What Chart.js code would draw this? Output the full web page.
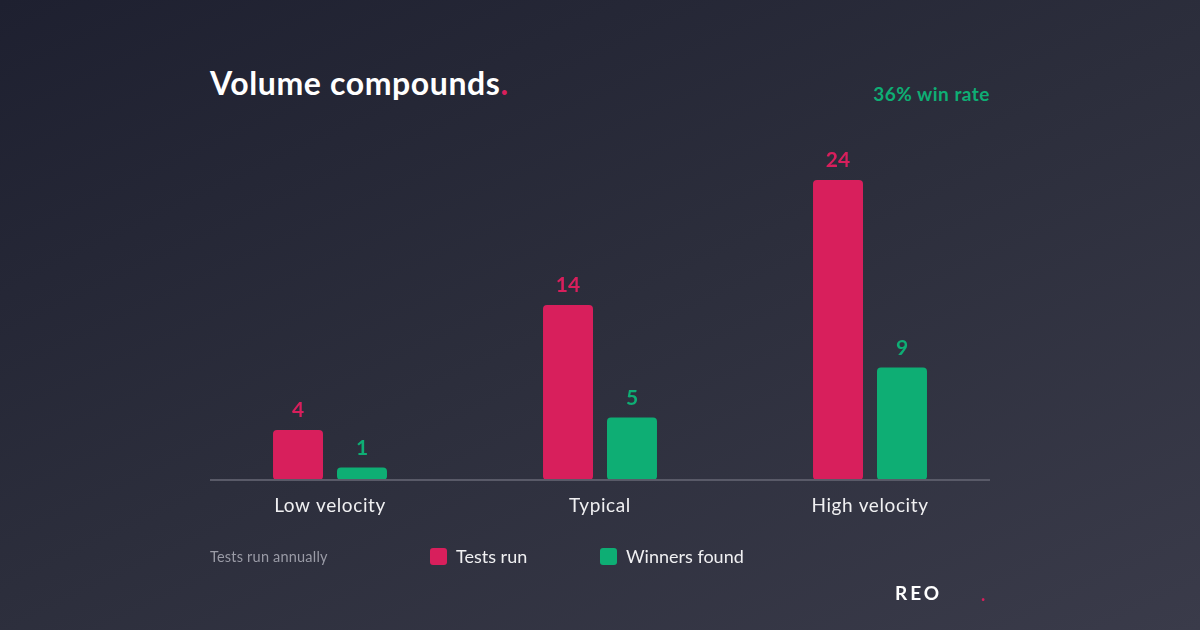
<!DOCTYPE html>
<html>
<head>
<meta charset="utf-8">
<script src="https://cdn.jsdelivr.net/npm/chart.js@4"></script>
<style>
  html, body { margin: 0; padding: 0; }
  body {
    width: 1200px; height: 630px; overflow: hidden; position: relative;
    background: linear-gradient(155deg, #1e2030 0%, #2c2e3c 50%, #3a3b4a 100%);
    font-family: Lato, "Noto Sans", sans-serif;
  }
  #chart { position: absolute; left: 0; top: 0; }
  .title { position: absolute; left: 210px; top: 63px; color: #fff; font-size: 32px; font-weight: 700; letter-spacing: 0.6px; }
  .title span { color: #d81f5c; }
  .winrate { position: absolute; right: 210px; top: 82px; color: #0eae74; font-size: 19px; font-weight: 700; letter-spacing: 0.5px; }
  .note { position: absolute; left: 210px; top: 548px; color: #9a9ba6; font-size: 14.5px; letter-spacing: 0.2px; }
  .leg { position: absolute; top: 545px; color: #f0f0f2; font-size: 18px; }
  .leg i { display: inline-block; width: 17px; height: 17px; border-radius: 3px; vertical-align: -2px; margin-right: 9px; }
  .logo { position: absolute; left: 895px; top: 581px; color: #fff; font-size: 19px; font-weight: 700; letter-spacing: 3px; }
  .dot { position: absolute; left: 981px; top: 583px; color: #d81f5c; font-size: 18px; font-weight: 700; }
</style>
</head>
<body>
<div class="title">Volume compounds<span>.</span></div>
<div class="winrate">36% win rate</div>
<canvas id="chart" width="1200" height="630"></canvas>
<div class="note">Tests run annually</div>
<div class="leg" style="left:430px"><i style="background:#d81f5c"></i>Tests run</div>
<div class="leg" style="left:600px"><i style="background:#0eae74"></i>Winners found</div>
<div class="logo">REO</div>
<div class="dot">.</div>
<script>
var categories = ["Low velocity", "Typical", "High velocity"];
var testsRun = [4, 14, 24];
var winnersFound = [1, 5, 9];
var red = "#d81f5c";
var green = "#0eae74";

var overlay = {
  id: "overlay",
  afterDatasetsDraw: function (chart) {
    var ctx = chart.ctx;
    var area = chart.chartArea;
    ctx.save();
    // baseline
    ctx.strokeStyle = "#595a68";
    ctx.lineWidth = 2;
    ctx.beginPath();
    ctx.moveTo(210, area.bottom);
    ctx.lineTo(990, area.bottom);
    ctx.stroke();
    // value labels
    ctx.textAlign = "center";
    ctx.textBaseline = "bottom";
    ctx.font = "700 21px Lato";
    chart.data.datasets.forEach(function (ds, i) {
      chart.getDatasetMeta(i).data.forEach(function (bar, j) {
        ctx.fillStyle = ds.backgroundColor;
        ctx.fillText(ds.data[j], bar.x, bar.y - 9);
      });
    });
    // category labels
    ctx.font = "19px Lato";
    ctx.letterSpacing = "0.6px";
    ctx.fillStyle = "#f0f0f2";
    ctx.textBaseline = "middle";
    var x = chart.scales.x;
    categories.forEach(function (c, j) {
      ctx.fillText(c, x.getPixelForValue(j), area.bottom + 26);
    });
    ctx.restore();
  }
};

new Chart(document.getElementById("chart").getContext("2d"), {
  type: "bar",
  data: {
    labels: categories,
    datasets: [
      { label: "Tests run", data: testsRun, backgroundColor: red },
      { label: "Winners found", data: winnersFound, backgroundColor: green }
    ]
  },
  options: {
    responsive: false,
    animation: false,
    layout: { padding: { left: 195, right: 195, top: 105, bottom: 150 } },
    datasets: { bar: { categoryPercentage: 0.474, barPercentage: 0.78125, borderRadius: 4, borderSkipped: false } },
    plugins: { legend: { display: false }, tooltip: { enabled: false } },
    scales: {
      x: { display: false },
      y: { display: false, min: 0, max: 30 }
    }
  },
  plugins: [overlay]
});
</script>
</body>
</html>
